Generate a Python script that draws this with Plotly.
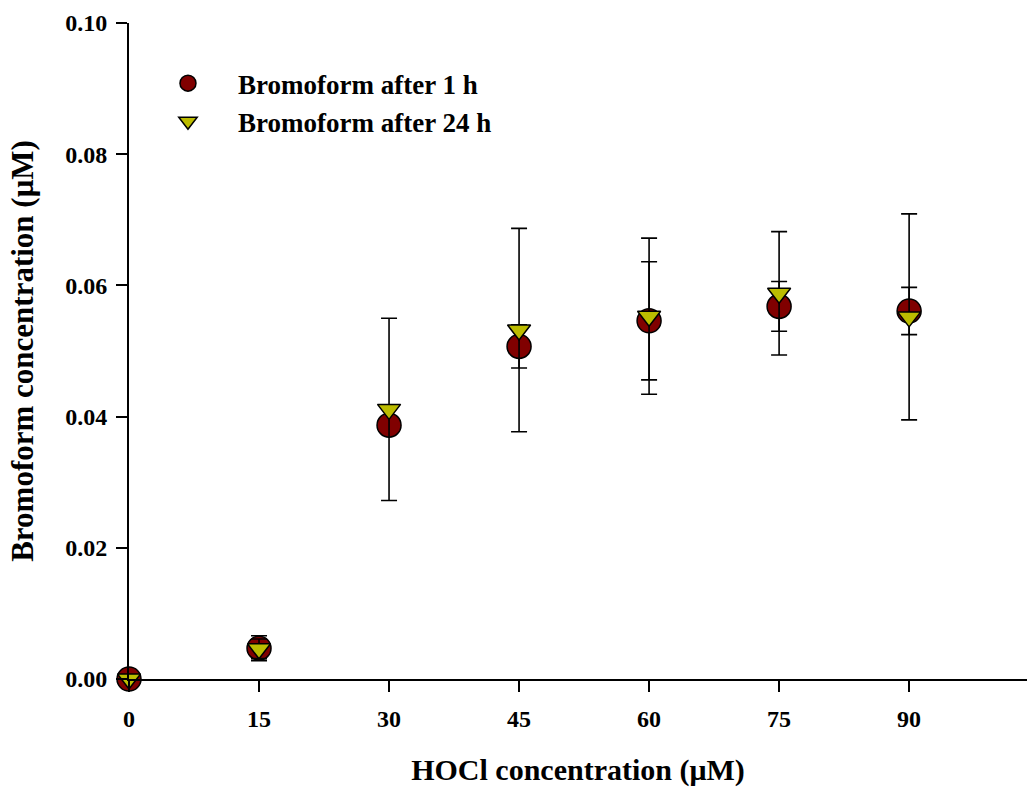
import plotly.graph_objects as go

hocl = [0, 15, 30, 45, 60, 75, 90]
bromo_1h = [0.0, 0.0047, 0.0387, 0.0507, 0.0546, 0.0568, 0.0561]
err_1h = [0.0, 0.0019, 0.0012, 0.0033, 0.0090, 0.0038, 0.0036]
bromo_24h = [0.0, 0.0046, 0.0411, 0.0532, 0.0553, 0.0588, 0.0552]
err_24h = [0.0, 0.0015, 0.0139, 0.0155, 0.0119, 0.0094, 0.0157]
y_ticks = [0.00, 0.02, 0.04, 0.06, 0.08, 0.10]
x_ticks = [0, 15, 30, 45, 60, 75, 90]

FONT = "Liberation Serif"

fig = go.Figure()
fig.add_trace(go.Scatter(
    x=hocl, y=bromo_1h, mode="markers", name="Bromoform after 1 h",
    marker=dict(symbol="circle", size=24, color="#800000",
                line=dict(color="black", width=1.5)),
    error_y=dict(type="data", array=err_1h, visible=True, color="black",
                 thickness=1.6, width=8),
    cliponaxis=False,
))
fig.add_trace(go.Scatter(
    x=hocl, y=bromo_24h, mode="markers", name="Bromoform after 24 h",
    marker=dict(symbol="triangle-down", size=20, color="#bcbc00",
                line=dict(color="black", width=1.5)),
    error_y=dict(type="data", array=err_24h, visible=True, color="black",
                 thickness=1.6, width=8),
    cliponaxis=False,
))

fig.update_layout(
    width=1027, height=787,
    margin=dict(l=129, r=0, t=23, b=108),
    plot_bgcolor="white", paper_bgcolor="white",
    font=dict(family=FONT, color="black", size=24),
    showlegend=True,
    legend=dict(
        x=0.01, y=0.945, xanchor="left", yanchor="top",
        font=dict(family=FONT, size=27, color="black", weight="bold"),
        bgcolor="rgba(0,0,0,0)", itemwidth=90, tracegroupgap=0,
    ),
    xaxis=dict(
        range=[0, 103.6], tickvals=x_ticks, ticks="outside", ticklen=11,
        tickwidth=2, tickcolor="black", showline=True, linecolor="black",
        linewidth=2, showgrid=False, zeroline=False,
        tickfont=dict(family=FONT, size=24, weight="bold"),
        ticklabelstandoff=6,
        title=dict(text="HOCl concentration (μM)",
                   font=dict(family=FONT, size=30, weight="bold"), standoff=31),
    ),
    yaxis=dict(
        range=[0, 0.1], tickvals=y_ticks, tickformat=".2f", ticks="outside",
        ticklen=11, tickwidth=2, tickcolor="black", showline=True,
        linecolor="black", linewidth=2, showgrid=False, zeroline=False,
        tickfont=dict(family=FONT, size=24, weight="bold"),
        ticklabelstandoff=4,
        title=dict(text="Bromoform concentration (μM)",
                   font=dict(family=FONT, size=31, weight="bold"), standoff=22),
    ),
)

fig.write_html("out.html")
